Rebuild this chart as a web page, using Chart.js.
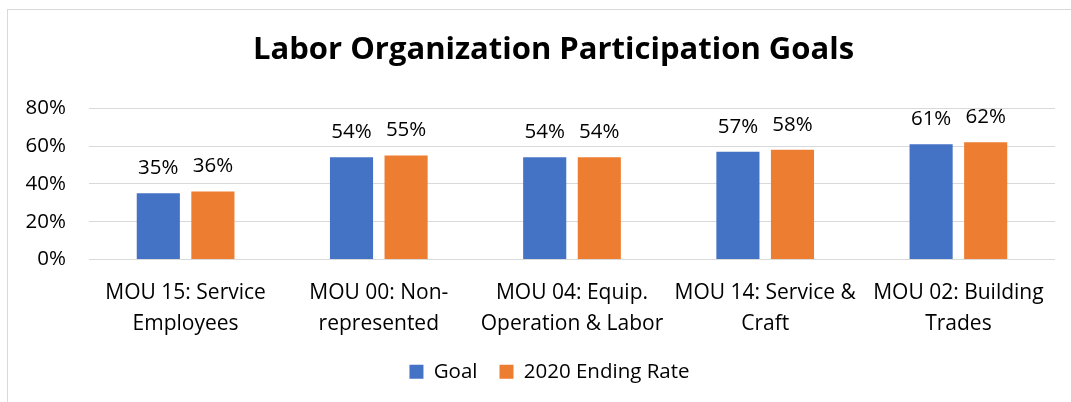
<!DOCTYPE html>
<html>
<head>
<meta charset="utf-8">
<script src="https://cdn.jsdelivr.net/npm/chart.js@4"></script>
<style>
  body { margin: 0; background: #fff; }
  #wrap { position: relative; width: 1071px; height: 402px; overflow: hidden; }
  #frame { position: absolute; left: 7px; top: 9px; width: 1100px; height: 420px;
           border-left: 1px solid #d9d9d9; border-top: 1px solid #d9d9d9; }
  canvas { position: absolute; left: 0; top: 0; }
</style>
</head>
<body>
<div id="wrap">
  <div id="frame"></div>
  <canvas id="myChart" width="1071" height="402"></canvas>
</div>
<script>
  // chart values
  const categories = [
    ['MOU 15: Service', 'Employees'],
    ['MOU 00: Non-', 'represented'],
    ['MOU 04: Equip.', 'Operation & Labor'],
    ['MOU 14: Service &', 'Craft'],
    ['MOU 02: Building', 'Trades']
  ];
  const goal = [35, 54, 54, 57, 61];
  const endingRate = [36, 55, 54, 58, 62];
  const yTicks = [0, 20, 40, 60, 80];

  const FONT = '"Open Sans", Lato, sans-serif';
  const SIZE = 20.5;

  // draws the % value above each bar
  const valueLabels = {
    id: 'valueLabels',
    afterDatasetsDraw(chart) {
      const ctx = chart.ctx;
      ctx.save();
      ctx.font = SIZE + 'px ' + FONT;
      ctx.fillStyle = '#000';
      ctx.textAlign = 'center';
      ctx.textBaseline = 'middle';
      chart.data.datasets.forEach(function (ds, i) {
        chart.getDatasetMeta(i).data.forEach(function (bar, j) {
          ctx.fillText(ds.data[j] + '%', bar.x, bar.y - 25);
        });
      });
      ctx.restore();
    }
  };

  // title and legend sit a bit right of centre in the original
  const shiftBoxes = {
    id: 'shiftBoxes',
    afterLayout(chart) {
      if (chart.titleBlock) {
        chart.titleBlock.left += 26;
        chart.titleBlock.right += 26;
      }
      if (chart.legend) {
        chart.legend.left += 22;
        chart.legend.right += 22;
      }
    }
  };

  const data = {
    labels: categories,
    datasets: [{
      label: 'Goal',
      backgroundColor: '#4472C4',
      data: goal,
    }, {
      label: '2020 Ending Rate',
      backgroundColor: '#ED7D31',
      data: endingRate,
    }]
  };

  const config = {
    type: 'bar',
    data: data,
    options: {
      responsive: false,
      animation: false,
      datasets: {
        bar: {
          categoryPercentage: 0.565,
          barPercentage: 0.79
        }
      },
      layout: {
        padding: { left: 0, right: 16, top: 0, bottom: 10 }
      },
      plugins: {
        title: {
          display: true,
          text: 'Labor Organization Participation Goals',
          color: '#000',
          font: { family: FONT, size: 31, weight: 'bold', lineHeight: 1.2 },
          padding: { top: 31.5, bottom: 39.5 }
        },
        legend: {
          position: 'bottom',
          labels: {
            color: '#000',
            font: { family: FONT, size: SIZE },
            boxWidth: 14,
            boxHeight: 14,
            padding: 22
          }
        },
        tooltip: { enabled: false }
      },
      scales: {
        x: {
          grid: { display: false },
          border: { display: false },
          ticks: {
            color: '#000',
            maxRotation: 0,
            minRotation: 0,
            autoSkip: false,
            padding: 11,
            font: { family: FONT, size: 21, lineHeight: 1.43 }
          },
          afterFit: function (scale) { scale.height = 80; }
        },
        y: {
          min: 0,
          max: 80,
          afterBuildTicks: function (scale) {
            scale.ticks = yTicks.map(function (v) { return { value: v }; });
          },
          grid: { color: '#d9d9d9', drawTicks: false },
          border: { display: false },
          ticks: {
            color: '#000',
            padding: 23,
            font: { family: FONT, size: SIZE },
            callback: function (v) { return v + '%'; }
          },
          afterFit: function (scale) { scale.width = 89; }
        }
      }
    },
    plugins: [valueLabels, shiftBoxes]
  };

  const myChart = new Chart(
    document.getElementById('myChart'),
    config
  );
</script>
</body>
</html>
